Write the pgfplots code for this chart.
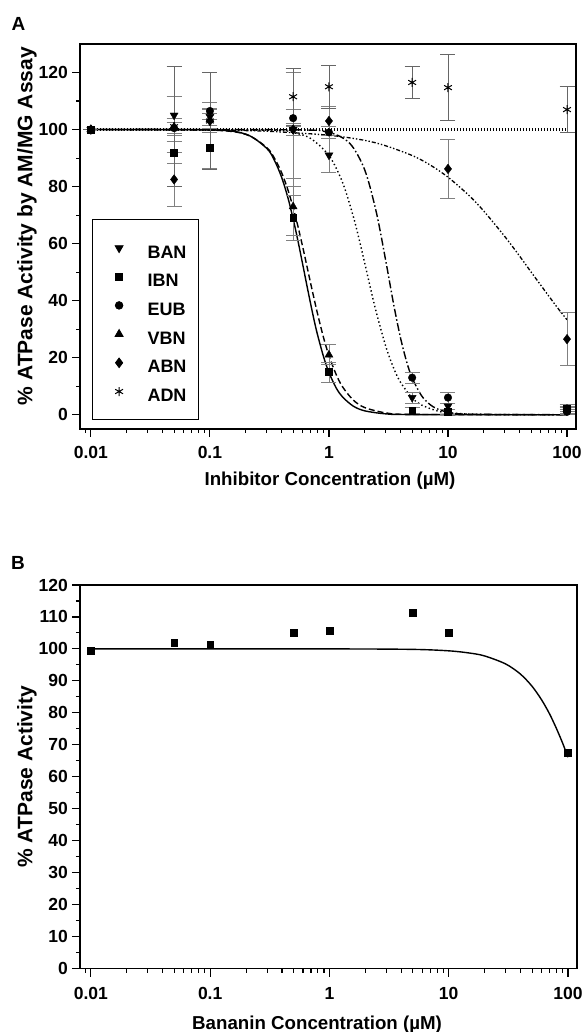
\documentclass[border=0pt]{standalone}
\usepackage{fontspec}
\setmainfont{Liberation Sans}
\usepackage{pgfplots}
\usepackage{pgfplotstable}
\pgfplotsset{compat=1.18}
\usetikzlibrary{plotmarks}

% ---------------- Panel A data ----------------
\pgfplotstableread{
x y e
0.01 100 0
0.05 105 6.5
0.1 104.5 3
0.5 100 2
1 91 6
5 6 2
10 3 1
100 1.5 1
}\ban
\pgfplotstableread{
x y e
0.01 100 0
0.05 92 4
0.1 93.5 7
0.5 69 8
1 15 3.5
5 1.5 1
10 1 1
100 2 1.5
}\ibn
\pgfplotstableread{
x y e
0.01 100 0
0.05 100.5 2
0.1 106.5 3
0.5 104 3
1 99 2
5 13 2
10 6 2
100 1 1
}\eub
\pgfplotstableread{
x y e
0.01 100 0
0.05 101 3
0.1 103.5 2
0.5 73 10
1 21 3.5
10 1 1
100 2 1
}\vbn
\pgfplotstableread{
x y e
0.01 100 0
0.05 82.5 9.5
0.1 103 4
0.5 100 20
1 103 5
10 86.2 10.5
100 26.5 9.3
}\abn
\pgfplotstableread{
x y e
0.01 100 0
0.05 101 21
0.1 103 17
0.5 111.5 10
1 115 7.5
5 116.5 5.7
10 114.7 11.5
100 107 8
}\adn
% ---------------- Panel B data ----------------
\pgfplotstableread{
x y
0.01 99.4
0.05 101.9
0.1 101.4
0.5 105.1
1 105.7
5 111.4
10 105.1
100 67.5
}\bdata

\pgfplotsset{legmark/.style={legend image code/.code={\path (-23.25pt,0pt) (22pt,0pt);\draw[##1] plot coordinates {(0pt,0pt)};}}}

\begin{document}
\begin{tikzpicture}
\useasboundingbox (0pt,0pt) rectangle (584pt,1032pt);

% ================= Panel A =================
\begin{axis}[
  scale only axis,
  at={(80pt,603pt)}, anchor=south west,
  width=496pt, height=385pt,
  xmode=log, xmin=0.0081, xmax=119,
  ymin=-5, ymax=130,
  xtick={0.01,0.1,1,10,100},
  xticklabels={0.01,0.1,1,10,100},
  minor xtick={0.008,0.009,0.02,0.03,0.04,0.05,0.06,0.07,0.08,0.09,0.2,0.3,0.4,0.5,0.6,0.7,0.8,0.9,2,3,4,5,6,7,8,9,20,30,40,50,60,70,80,90},
  ytick={0,20,40,60,80,100,120},
  minor y tick num=1,
  tick align=outside, tick pos=left,
  major tick length=8pt, minor tick length=4pt,
  axis line style={line width=1.2pt},
  every tick/.append style={black, line width=1.1pt},
  /pgf/number format/assume math mode=true,
  tick label style={font=\bfseries\fontsize{17.5}{20}\selectfont},
  yticklabel style={anchor=east, inner sep=0pt, xshift=-4pt},
  xticklabel style={anchor=base, inner sep=0pt, yshift=-21.3pt},
  xlabel={Inhibitor Concentration (\textmu M)},
  ylabel={\% ATPase Activity by AM/MG Assay},
  x label style={at={(axis description cs:0.504,-0.1455)}, anchor=base, font=\bfseries\fontsize{18.7}{22}\selectfont},
  y label style={at={(axis description cs:-0.0958,0.527)}, anchor=base, rotate=0, font=\bfseries\fontsize{21}{24}\selectfont},
  legend style={at={(axis description cs:0.0236,0.5446)}, anchor=north west,
     draw=black, line width=0.8pt, fill=white,
     font=\bfseries\fontsize{18}{20}\selectfont,
     inner xsep=3.35pt, inner ysep=18.15pt, row sep=8.4pt,
     nodes={text width=41.65pt, text height=20.3pt, text depth=0pt, inner ysep=0pt, inner xsep=6pt}},
  legend cell align=left,
  clip=false,
]
% fitted curves
\addplot[black, line width=1.4pt, smooth, no marks, forget plot] coordinates {(0.01,100)(0.1,99.9)(0.2,98.4)(0.3,93.4)(0.35,89.0)(0.4,83.3)(0.45,76.4)(0.5,68.7)(0.55,60.8)(0.6,53.0)(0.65,45.7)(0.7,39.1)(0.75,33.2)(0.8,28.2)(0.9,20.4)(1,14.8)(1.15,9.4)(1.3,6.24)(1.6,3.02)(2,1.36)(3,0.31)(5,0.05)(100,0)};
\addplot[black, line width=1.4pt, smooth, no marks, forget plot, dash pattern=on 6pt off 3pt] coordinates {(0.01,100)(0.1,99.8)(0.2,98.3)(0.3,93.7)(0.35,89.8)(0.4,84.9)(0.45,79.1)(0.5,72.7)(0.55,65.9)(0.6,59.1)(0.65,52.5)(0.7,46.3)(0.75,40.7)(0.8,35.6)(0.9,27.1)(1,20.7)(1.15,14.1)(1.3,9.8)(1.6,5.14)(2,2.5)(3,0.65)(5,0.12)(100,0)};
\addplot[black, line width=1.4pt, smooth, no marks, forget plot, dash pattern=on 1.4pt off 2.6pt] coordinates {(0.01,100)(0.3,99.8)(0.5,98.9)(0.7,96.9)(1,90.9)(1.3,81.5)(1.6,69.6)(1.8,61.2)(2,53.1)(2.25,43.8)(2.5,35.9)(3,24.0)(3.5,16.3)(4,11.3)(5,5.9)(6,3.4)(8,1.42)(10,0.71)(20,0.08)(100,0)};
\addplot[black, line width=1.4pt, smooth, no marks, forget plot, dash pattern=on 8pt off 2.5pt on 1.5pt off 2.5pt] coordinates {(0.01,100)(0.5,99.9)(1,99.0)(1.5,95.1)(2,85.8)(2.5,71.0)(3,54.0)(3.5,38.6)(4,26.8)(4.5,18.5)(5,12.9)(6,6.65)(7,3.7)(8,2.18)(10,0.90)(15,0.18)(100,0)};
\addplot[black, line width=1.3pt, smooth, no marks, forget plot, dash pattern=on 4pt off 2pt on 1.4pt off 2pt on 1.4pt off 2pt] coordinates {(0.01,100)(0.1,99.8)(0.3,99.4)(1,98.0)(2,96.2)(3,94.3)(5,90.9)(7,87.7)(10,83.3)(15,76.9)(20,71.4)(30,62.5)(40,55.6)(50,50)(60,45.5)(70,41.7)(85,37.0)(100,33.3)};
\addplot[black, line width=2.2pt, no marks, forget plot, dash pattern=on 1.6pt off 1.4pt] coordinates {(0.01,100)(100,100)};
% data points
\addplot[only marks, black, mark=triangle*, mark size=4.6pt, mark options={rotate=180, fill=black}, legmark,
  error bars/y dir=both, error bars/y explicit,
  error bars/error bar style={black!50, line width=0.8pt},
  error bars/error mark options={rotate=90, black!50, mark size=7.5pt, line width=0.8pt}] table[x=x,y=y,y error=e]{\ban};
\addplot[only marks, black, mark=square*, mark size=3.4pt, mark options={fill=black}, legmark,
  error bars/y dir=both, error bars/y explicit,
  error bars/error bar style={black!50, line width=0.8pt},
  error bars/error mark options={rotate=90, black!50, mark size=7.5pt, line width=0.8pt}] table[x=x,y=y,y error=e]{\ibn};
\addplot[only marks, black, mark=*, mark size=3.8pt, mark options={fill=black}, legmark,
  error bars/y dir=both, error bars/y explicit,
  error bars/error bar style={black!50, line width=0.8pt},
  error bars/error mark options={rotate=90, black!50, mark size=7.5pt, line width=0.8pt}] table[x=x,y=y,y error=e]{\eub};
\addplot[only marks, black, mark=triangle*, mark size=4.6pt, mark options={fill=black}, legmark,
  error bars/y dir=both, error bars/y explicit,
  error bars/error bar style={black!50, line width=0.8pt},
  error bars/error mark options={rotate=90, black!50, mark size=7.5pt, line width=0.8pt}] table[x=x,y=y,y error=e]{\vbn};
\addplot[only marks, black, mark=diamond*, mark size=4.8pt, mark options={fill=black}, legmark,
  error bars/y dir=both, error bars/y explicit,
  error bars/error bar style={black!50, line width=0.8pt},
  error bars/error mark options={rotate=90, black!50, mark size=7.5pt, line width=0.8pt}] table[x=x,y=y,y error=e]{\abn};
\addplot[only marks, black, mark=asterisk, mark size=4.5pt, mark options={line width=1pt}, legmark,
  error bars/y dir=both, error bars/y explicit,
  error bars/error bar style={black!60, line width=0.8pt},
  error bars/error mark options={rotate=90, black!60, mark size=7.5pt, line width=0.8pt}] table[x=x,y=y,y error=e]{\adn};
\legend{BAN,IBN,EUB,VBN,ABN,ADN}
\node[font=\bfseries\fontsize{19}{22}\selectfont] at (axis description cs:-0.124,1.053) {A};
\end{axis}

% ================= Panel B =================
\begin{axis}[
  scale only axis,
  at={(80pt,63.5pt)}, anchor=south west,
  width=497pt, height=383.5pt,
  xmode=log, xmin=0.0081, xmax=119,
  ymin=0, ymax=120,
  xtick={0.01,0.1,1,10,100},
  xticklabels={0.01,0.1,1,10,100},
  minor xtick={0.008,0.009,0.02,0.03,0.04,0.05,0.06,0.07,0.08,0.09,0.2,0.3,0.4,0.5,0.6,0.7,0.8,0.9,2,3,4,5,6,7,8,9,20,30,40,50,60,70,80,90},
  ytick={0,10,20,30,40,50,60,70,80,90,100,110,120},
  minor y tick num=1,
  tick align=outside, tick pos=left,
  major tick length=8pt, minor tick length=4pt,
  axis line style={line width=1.2pt},
  every tick/.append style={black, line width=1.1pt},
  /pgf/number format/assume math mode=true,
  tick label style={font=\bfseries\fontsize{17.5}{20}\selectfont},
  yticklabel style={anchor=east, inner sep=0pt, xshift=-4pt},
  xticklabel style={anchor=base, inner sep=0pt, yshift=-23.2pt},
  xlabel={Bananin Concentration (\textmu M)},
  ylabel={\% ATPase Activity},
  x label style={at={(axis description cs:0.477,-0.158)}, anchor=base, font=\bfseries\fontsize{18.7}{22}\selectfont},
  y label style={at={(axis description cs:-0.0958,0.5)}, anchor=base, rotate=0, font=\bfseries\fontsize{21}{24}\selectfont},
  clip=false,
]
\addplot[black, line width=1.4pt, smooth, no marks] coordinates {(0.01,100)(1,100)(5,99.85)(10,99.4)(15,98.7)(20,97.8)(30,95.3)(40,92.1)(50,88.3)(60,84.1)(70,79.7)(80,75.1)(90,70.6)(100,66.1)};
\addplot[only marks, black, mark=square*, mark size=3.4pt, mark options={fill=black}] table[x=x,y=y]{\bdata};
\node[font=\bfseries\fontsize{19}{22}\selectfont] at (axis description cs:-0.1247,1.057) {B};
\end{axis}
\end{tikzpicture}
\end{document}
